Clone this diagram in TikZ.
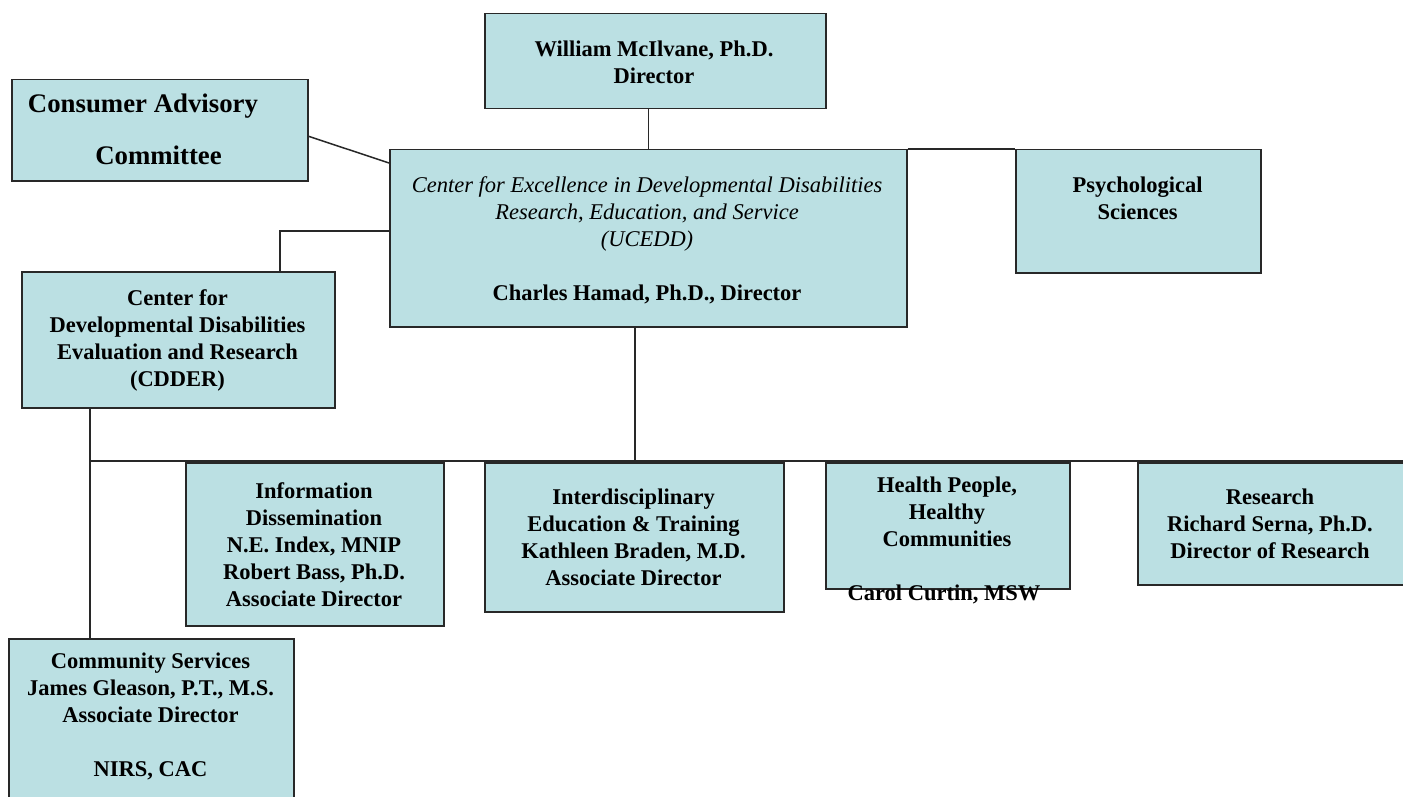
\documentclass[tikz,border=0pt]{standalone}
\usepackage{fontspec}
\setmainfont{Liberation Serif}
\definecolor{boxfill}{RGB}{187,224,227}
\definecolor{linec}{RGB}{40,40,40}
\begin{document}
\begin{tikzpicture}[x=0.5pt,y=-0.5pt,
  box/.style={draw=linec, line width=0.75pt, fill=boxfill, anchor=north west, inner sep=0pt},
  txt/.style={align=center, inner sep=0pt, font=\fontsize{11.25}{13.5}\selectfont\bfseries},
  big/.style={inner sep=0pt, font=\fontsize{13.4}{16}\selectfont\bfseries},
  conn/.style={draw=linec, line width=0.75pt}]
\clip (0,0) rectangle (1403,797);
\fill[white] (0,0) rectangle (1403,797);

% boxes
\node[box, minimum width=170.5pt, minimum height=47.5pt] (mc) at (484,13) {};
\node[box, minimum width=148pt, minimum height=50.5pt] (cac) at (11,79) {};
\node[box, minimum width=258.5pt, minimum height=88.5pt] (uc) at (389,149) {};
\node[box, minimum width=122.5pt, minimum height=61.5pt] (ps) at (1015,149) {};
\node[box, minimum width=156.5pt, minimum height=68pt] (cd) at (21,271) {};
\node[box, minimum width=129pt, minimum height=81.5pt] (id) at (185,462) {};
\node[box, minimum width=149.5pt, minimum height=74.5pt] (ie) at (484,462) {};
\node[box, minimum width=122pt, minimum height=63pt] (hp) at (825,462) {};
\node[box, minimum width=140pt, minimum height=61pt] (rs) at (1137,462) {};
\node[box, minimum width=142.5pt, minimum height=90pt] (cs) at (8,638) {};

% connectors
\coordinate (busL) at (89,461);
\coordinate (busR) at (1403,461);
\draw[conn] (uc.north) -- (uc.north |- mc.south);
\draw[conn] (uc.north east) -- (ps.north west);
\draw[conn] ([yshift=-3pt]cac.east) -- ([yshift=-7pt]uc.north west);
\draw[conn] ([yshift=3.75pt]uc.west) -| ([xshift=50.75pt]cd.north);
\draw[conn] ([xshift=-6.75pt]uc.south) |- (busL);
\draw[conn] (busL) -- (busR);
\draw[conn] ([xshift=-44.25pt]cd.south) -- ([xshift=-30.75pt]cs.north);

% texts
\node[txt] (tmc) at (654,62) {William McIlvane, Ph.D.\\Director};
\node[big] (tcac1) at (143,106) {Consumer Advisory};
\node[big] (tcac2) at (158.5,155) {Committee};
\node[txt, font=\fontsize{11.25}{13.5}\selectfont] (tuc) at (647,240) {\itshape Center for Excellence in Developmental Disabilities\\\itshape Research, Education, and Service\\\itshape (UCEDD)\\[13.5pt]\bfseries Charles Hamad, Ph.D., Director};
\node[txt] (tps) at (1137.5,198) {Psychological\\Sciences};
\node[txt] (tcd) at (177.5,340.5) {Center for\\Developmental Disabilities\\Evaluation and Research\\(CDDER)};
\node[txt] (tid) at (314,544.5) {Information\\Dissemination\\N.E. Index, MNIP\\Robert Bass, Ph.D.\\Associate Director};
\node[txt] (tie) at (633.5,537.5) {Interdisciplinary\\Education \& Training\\Kathleen Braden, M.D.\\Associate Director};
\node[txt] (thp) at (947,511.5) {Health People,\\Healthy\\Communities};
\node[txt] (thp2) at (944,594) {Carol Curtin, MSW};
\node[txt] (trs) at (1270,524) {Research\\Richard Serna, Ph.D.\\Director of Research};
\node[txt] (tcs) at (150.5,716) {Community Services\\James Gleason, P.T., M.S.\\Associate Director\\[13.5pt]NIRS, CAC};
\end{tikzpicture}
\end{document}
